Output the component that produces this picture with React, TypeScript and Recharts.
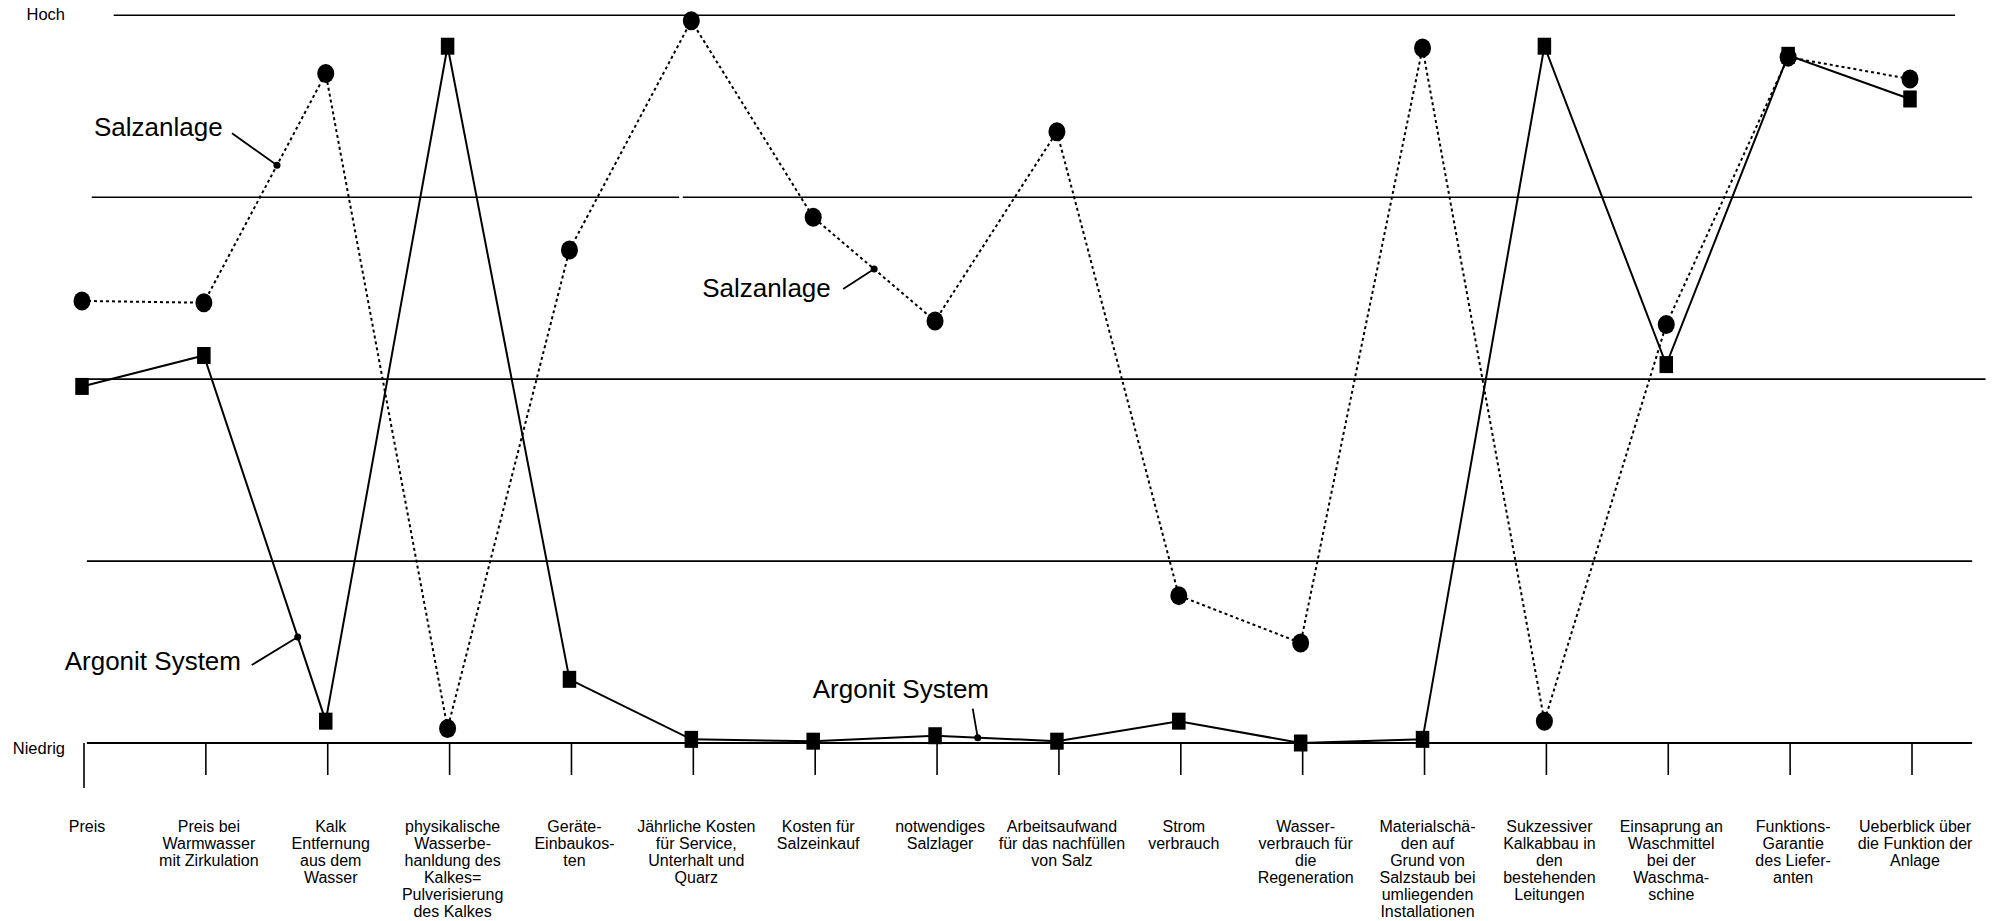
import React from "react";
import { LineChart, Line, XAxis, YAxis, ReferenceLine, ReferenceDot } from "recharts";

// criteria along the bottom (line breaks as in the original sheet)
const categories = [
  "Preis",
  "Preis bei\nWarmwasser\nmit Zirkulation",
  "Kalk\nEntfernung\naus dem\nWasser",
  "physikalische\nWasserbe-\nhanldung des\nKalkes=\nPulverisierung\ndes Kalkes",
  "Geräte-\nEinbaukos-\nten",
  "Jährliche Kosten\nfür Service,\nUnterhalt und\nQuarz",
  "Kosten für\nSalzeinkauf",
  "notwendiges\nSalzlager",
  "Arbeitsaufwand\nfür das nachfüllen\nvon Salz",
  "Strom\nverbrauch",
  "Wasser-\nverbrauch für\ndie\nRegeneration",
  "Materialschä-\nden auf\nGrund von\nSalzstaub bei\numliegenden\nInstallationen",
  "Sukzessiver\nKalkabbau in\nden\nbestehenden\nLeitungen",
  "Einsaprung an\nWaschmittel\nbei der\nWaschma-\nschine",
  "Funktions-\nGarantie\ndes Liefer-\nanten",
  "Ueberblick über\ndie Funktion der\nAnlage",
];

// 0 = Niedrig ... 4 = Hoch
const salzanlage = [2.43, 2.42, 3.68, 0.08, 2.71, 3.97, 2.89, 2.32, 3.36, 0.81, 0.55, 3.82, 0.12, 2.3, 3.77, 3.65];
const argonitSystem = [1.96, 2.13, 0.12, 3.83, 0.35, 0.02, 0.01, 0.04, 0.01, 0.12, 0, 0.02, 3.83, 2.08, 3.78, 3.54];

const levelTicks = [0, 4];
const levelLabels: Record<number, string> = { 0: "Niedrig", 4: "Hoch" };

const seriesNames = ["Salzanlage", "Argonit System"];

const data = categories.map((label, i) => ({
  idx: i,
  label,
  salz: salzanlage[i],
  argonit: argonitSystem[i],
}));

// hand-drawn looking guide lines, extents in category units
const gridSpans = [
  { level: 4, from: 0.26, to: 15.37 },
  { level: 3, from: 0.08, to: 4.9 },
  { level: 3, from: 4.93, to: 15.51 },
  { level: 2, from: -0.04, to: 15.62 },
  { level: 1, from: 0.04, to: 15.51 },
  { level: 0, from: 0.04, to: 15.51 },
];

// callouts: point on a segment of a series, text/leader offsets in px
const notes = [
  { name: seriesNames[0], values: salzanlage, seg: 1, t: 0.6, textDx: -183, textDy: -29, lineDx: -45, lineDy: -32 },
  { name: seriesNames[0], values: salzanlage, seg: 6, t: 0.5, textDx: -172, textDy: 28, lineDx: -31, lineDy: 20 },
  { name: seriesNames[1], values: argonitSystem, seg: 1, t: 0.77, textDx: -233, textDy: 33, lineDx: -46, lineDy: 28 },
  { name: seriesNames[1], values: argonitSystem, seg: 7, t: 0.35, textDx: -165, textDy: -40, lineDx: -5, lineDy: -29 },
];

const FONT = "'Liberation Sans', Arial, Helvetica, sans-serif";

const CategoryTick = (props: any) => {
  const { x, y, payload } = props;
  const lines = String(categories[payload.value] ?? "").split("\n");
  const len = payload.value === 0 ? 45 : 32;
  return (
    <g>
      <line x1={x + 2} y1={y} x2={x + 2} y2={y + len} stroke="#000" strokeWidth={1.6} />
      <text x={x + 5} y={y + 89} textAnchor="middle" fontSize={16} fontFamily={FONT} fill="#000">
        {lines.map((l, i) => (
          <tspan key={i} x={x + 5} dy={i === 0 ? 0 : 17}>
            {l}
          </tspan>
        ))}
      </text>
    </g>
  );
};

const LevelTick = (props: any) => {
  const { x, y, payload } = props;
  return (
    <text
      x={x - 17}
      y={y + (payload.value === 0 ? 11 : 4.5)}
      textAnchor="end"
      fontSize={16.5}
      fontFamily={FONT}
      fill="#000"
    >
      {levelLabels[payload.value]}
    </text>
  );
};

const SquareDot = (p: any) => (
  <rect key={`sq-${p.index}`} x={p.cx - 6.75} y={p.cy - 8.5} width={13.5} height={17} fill="#000" />
);

const RoundDot = (p: any) => (
  <ellipse key={`ci-${p.index}`} cx={p.cx} cy={p.cy} rx={8.5} ry={9.5} fill="#000" />
);

export default function App() {
  return (
    <div style={{ position: "absolute", left: 0, top: 0, width: 2002, height: 921, background: "#fff" }}>
      <LineChart
        width={2002}
        height={921}
        data={data}
        margin={{ top: 15.3, right: 92, bottom: 0, left: 12 }}
        style={{ fontFamily: FONT }}
      >
        <XAxis
          dataKey="idx"
          type="number"
          domain={[0, 15]}
          ticks={data.map((d) => d.idx)}
          interval={0}
          height={178}
          axisLine={false}
          tickLine={false}
          tickSize={0}
          tickMargin={0}
          tick={(p: any) => <CategoryTick {...p} />}
        />
        <YAxis
          type="number"
          domain={[0, 4]}
          ticks={levelTicks}
          width={70}
          axisLine={false}
          tickLine={false}
          tickSize={0}
          tickMargin={0}
          tick={(p: any) => <LevelTick {...p} />}
        />
        {gridSpans.map((g, i) => (
          <ReferenceLine
            key={i}
            segment={[
              { x: g.from, y: g.level },
              { x: g.to, y: g.level },
            ]}
            stroke="#000"
            strokeWidth={g.level === 0 ? 2 : 1.6}
            ifOverflow="visible"
          />
        ))}
        <Line
          type="linear"
          dataKey="salz"
          name={seriesNames[0]}
          stroke="#000"
          strokeWidth={2}
          strokeDasharray="3 3"
          dot={RoundDot}
          activeDot={false}
          isAnimationActive={false}
        />
        <Line
          type="linear"
          dataKey="argonit"
          name={seriesNames[1]}
          stroke="#000"
          strokeWidth={2}
          dot={SquareDot}
          activeDot={false}
          isAnimationActive={false}
        />
        {notes.map((n, i) => {
          const v0 = n.values[n.seg];
          const v1 = n.values[n.seg + 1];
          return (
            <ReferenceDot
              key={`note-${i}`}
              x={n.seg + n.t}
              y={v0 + (v1 - v0) * n.t}
              r={3.5}
              ifOverflow="visible"
              shape={(p: any) => (
                <g>
                  <line
                    x1={p.cx + n.lineDx}
                    y1={p.cy + n.lineDy}
                    x2={p.cx}
                    y2={p.cy}
                    stroke="#000"
                    strokeWidth={1.8}
                  />
                  <circle cx={p.cx} cy={p.cy} r={3.5} fill="#000" />
                  <text x={p.cx + n.textDx} y={p.cy + n.textDy} fontSize={26} fontFamily={FONT} fill="#000">
                    {n.name}
                  </text>
                </g>
              )}
            />
          );
        })}
      </LineChart>
    </div>
  );
}
